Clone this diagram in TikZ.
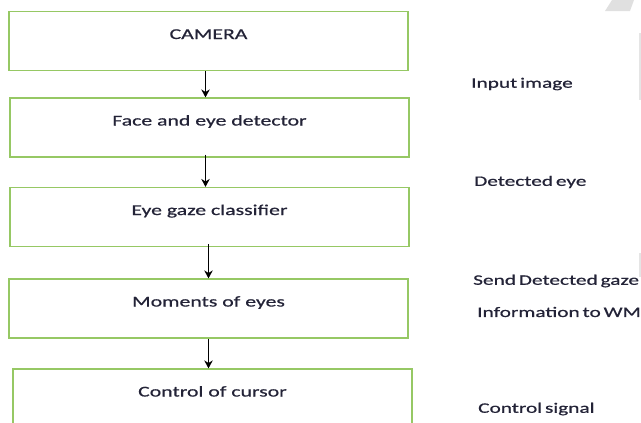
\documentclass[tikz,border=0pt]{standalone}
\usepackage{fontspec}
\setmainfont{Carlito}[FakeStretch=1.45, FakeBold=0.7]
\newfontfamily\sidefont{Carlito}[FakeStretch=1.47, FakeBold=0.7, WordSpace=0.6]
\usepackage{xcolor}
\usetikzlibrary{
  arrows.meta,
  positioning
}
\definecolor{boxgreen}{RGB}{150,200,100}
\definecolor{inkblue}{RGB}{35,35,55}
\tikzset{
  stagebox/.style={draw=boxgreen, line width=1.2, minimum width=399, minimum height=59,
    inner sep=0, text depth=14, text height=10, font=\fontsize{15}{17}\selectfont, text=inkblue},
  sidelabel/.style={anchor=west, inner sep=0, font=\sidefont\fontsize{14.5}{17}\selectfont, text=inkblue},
  flow/.style={-{Stealth[length=8, width=8.5]}, line width=1.4}
}

\begin{document}
\begin{tikzpicture}[x=1pt, y=-1pt]
            \useasboundingbox (0, 0) rectangle (641, 423);
            \clip (0, 0) rectangle (641, 423);

            \node[stagebox] (camera) at (208.5, 41) {CAMERA};
            \node[stagebox] (detector) at (209.5, 127.5) {Face and eye detector};
            \node[stagebox] (classifier) at (209.5, 217) {Eye gaze classifier};
            \node[stagebox] (moments) at (208.5, 308.5) {Moments of eyes};
            \node[stagebox] (cursor) at (212.5, 398.5) {Control of cursor};

            \draw[flow] ([xshift=-3]camera.south) -- ([xshift=-3]camera.south |- detector.north);
            \draw[flow] ([xshift=-4, yshift=3]detector.south) -- ([xshift=-4]detector.south |- classifier.north);
            \draw[flow] ([xshift=-1, yshift=3]classifier.south) -- ([xshift=-1]classifier.south |- moments.north);
            \draw[flow] ([xshift=0]moments.south) -- ([xshift=0]moments.south |- cursor.north);

            \node[sidelabel] (input) at (471, 84) {Input image};
            \node[sidelabel] (detected) at (474, 182) {Detected eye};
            \node[sidelabel] (send) at (473, 281) {Send Detected gaze};
            \node[sidelabel] (info) at (477, 312) {Information to WM};
            \node[sidelabel] (signal) at (478, 409) {Control signal};

            \fill[black!12] (612, 0) -- (634, 0) -- (630, 11) -- (605, 11) -- cycle;
            \fill[black!10] (638.5, 33) rectangle (641, 100);
            \fill[black!10] (638.5, 253) rectangle (641, 277);
          \end{tikzpicture}
\end{document}
